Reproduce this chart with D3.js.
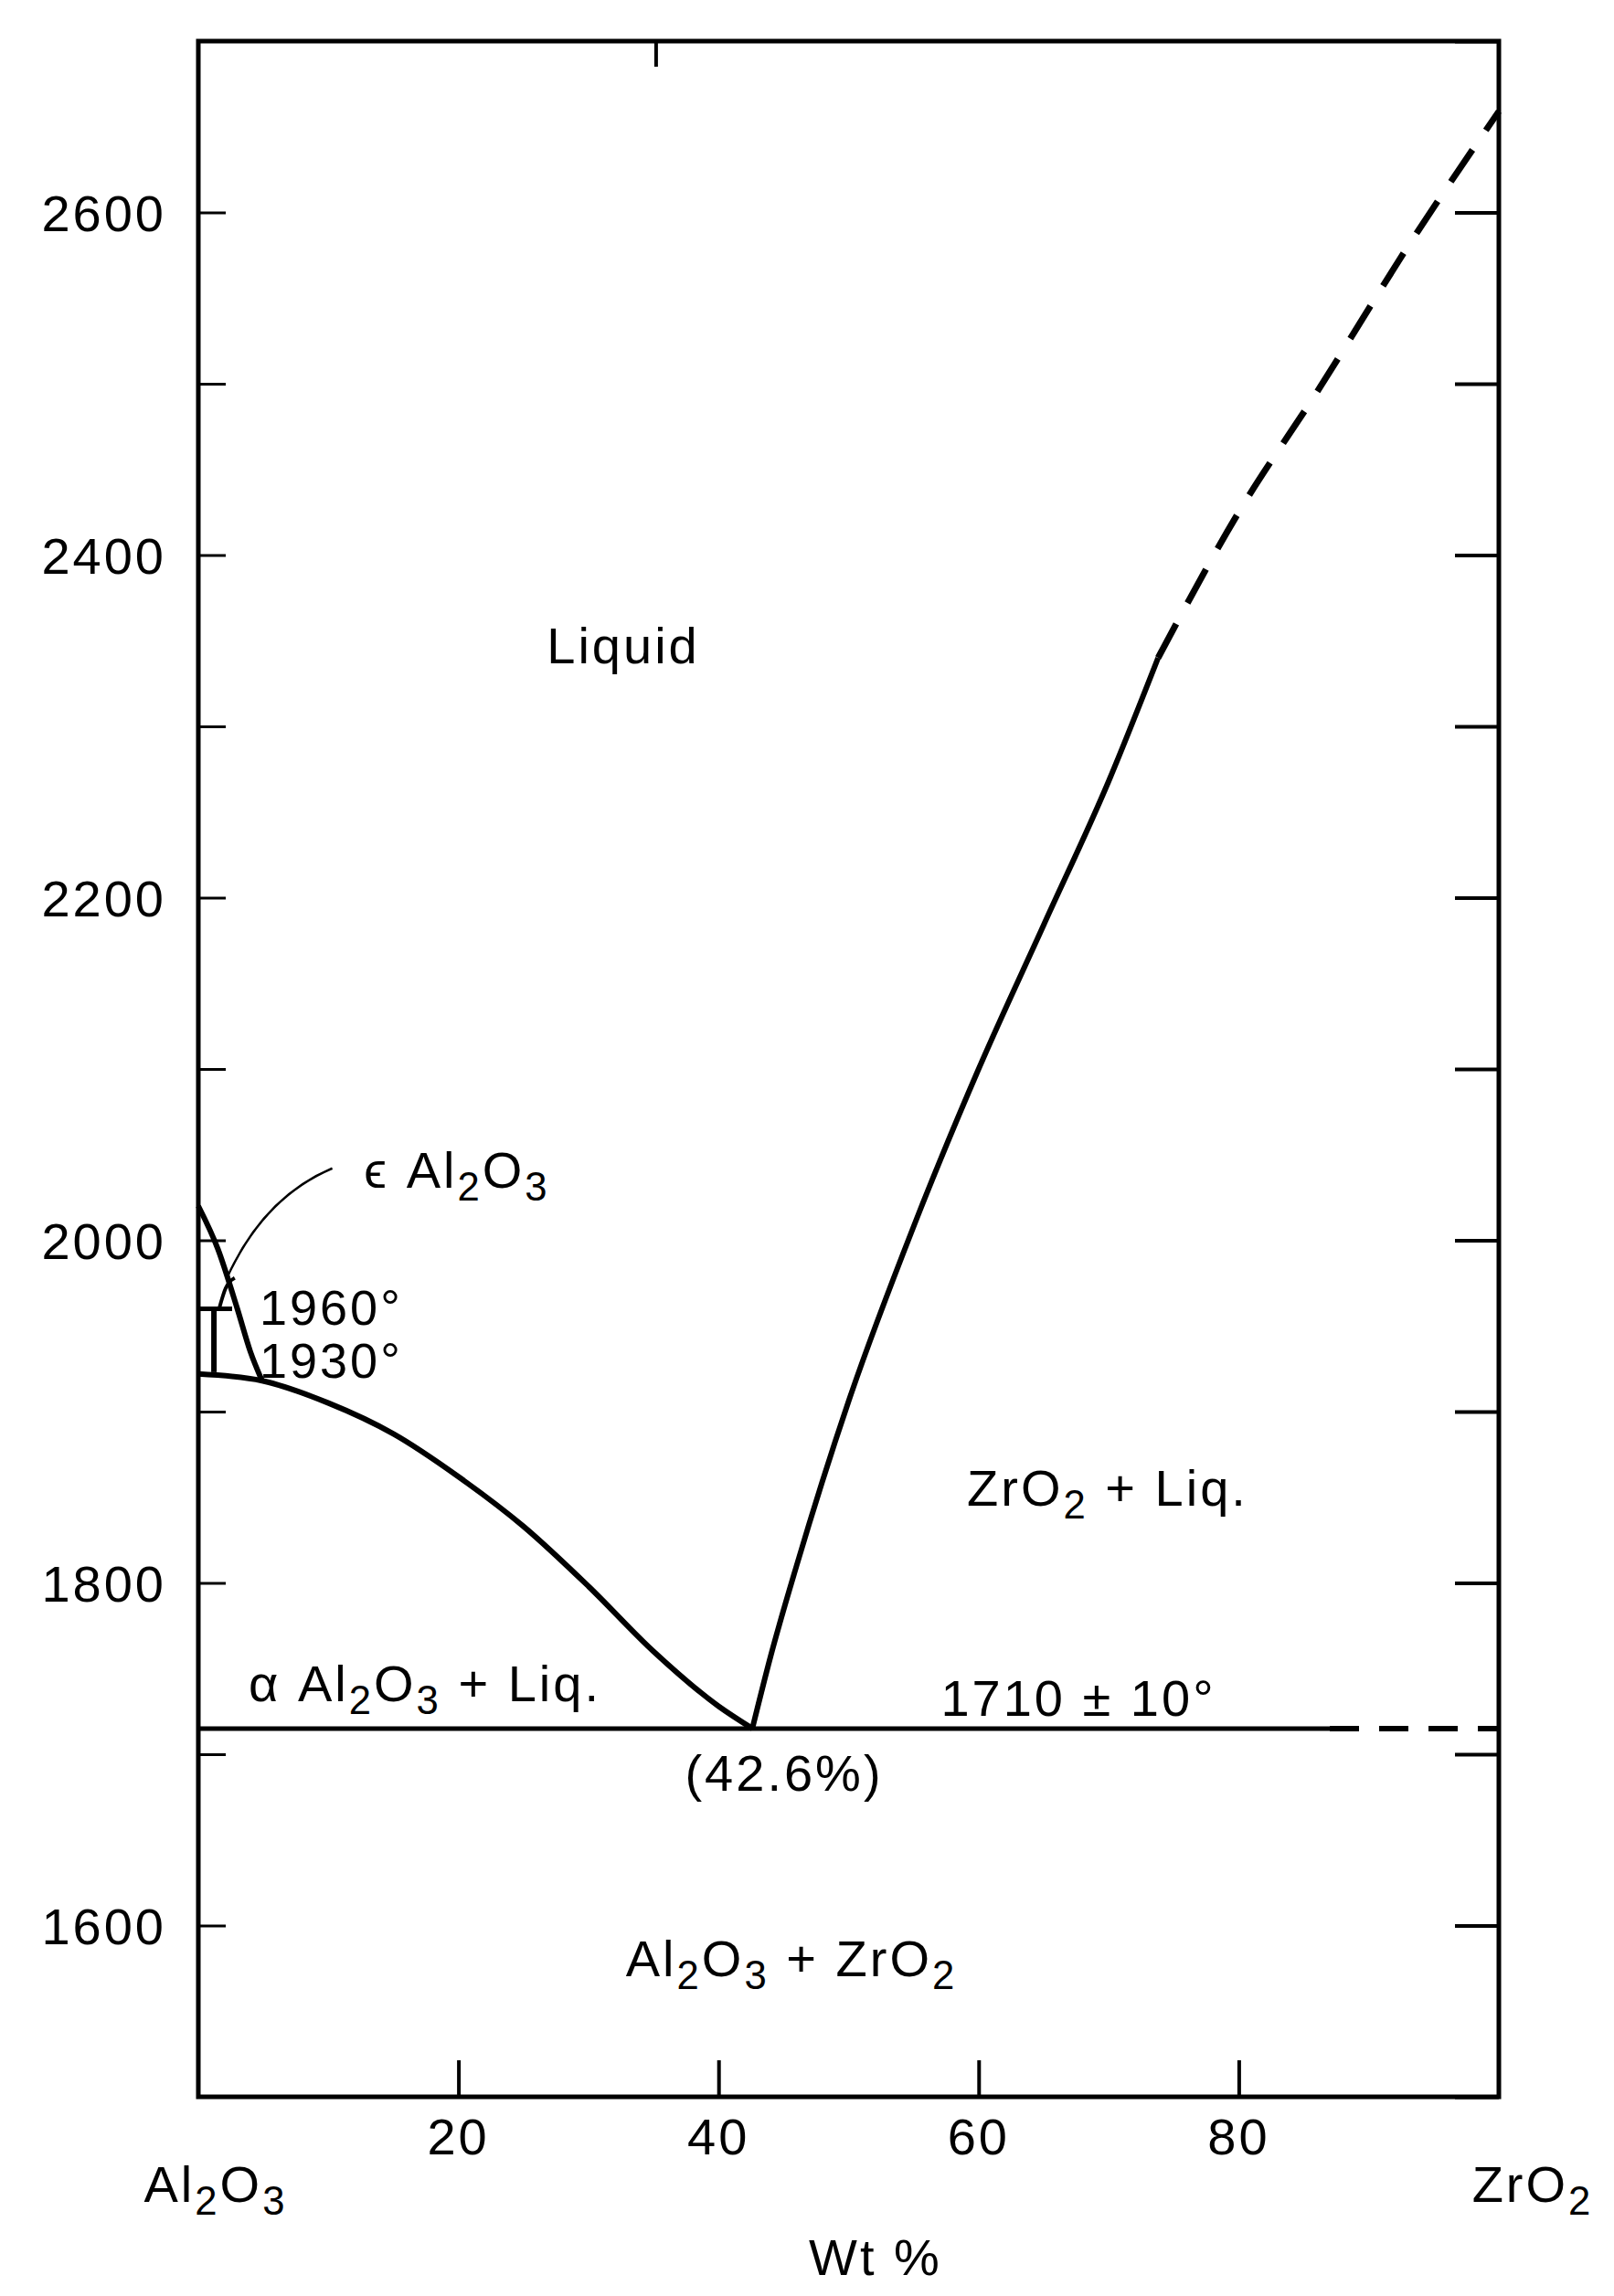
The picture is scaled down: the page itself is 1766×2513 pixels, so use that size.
<!DOCTYPE html><html><head><meta charset="utf-8">
<script src="https://cdn.jsdelivr.net/npm/d3@7"></script>
<style>body{margin:0;background:#fff}text{font-family:"Liberation Sans",Arial,sans-serif;fill:#000;letter-spacing:3px}</style></head><body>
<svg id="c" width="1766" height="2513"></svg>
<script>
const yTicks=[1600,1800,2000,2200,2400,2600];
const yMinor=[1500,1600,1700,1800,1900,2000,2100,2200,2300,2400,2500,2600,2700];
const xTicks=[20,40,60,80];
const epsDome=[[0,2020],[1.5,1995],[3,1960],[4,1935],[4.9,1918]];
const eps1960=[[0,1960],[2.6,1960]];
const epsVert=[[1.2,1960],[1.2,1923]];
const epsArch=[[1.6,1960],[2.1,1972],[2.8,1978]];
const liqLeft=[[0,1922],[4.9,1918],[10,1905],[15,1887],[20,1862],[25,1833],[30,1798],[35,1760],[40,1728],[42.6,1715]];
const liqRightSolid=[[42.6,1715],[44,1757],[46,1810],[50,1906],[55,2008],[60,2100],[65,2184],[70,2268],[73.8,2340]];
const liqRightDash=[[73.8,2340],[80,2425],[86,2495],[93,2580],[100,2659]];
const eutSolid=[[0,1715],[87,1715]];
const eutDash=[[87,1715],[100,1715]];
const svg=d3.select("#c");
const x=d3.scaleLinear().domain([0,100]).range([217,1640]);
const y=d3.scaleLinear().domain([1500,2700]).range([2295,45]);
const line=d3.line().x(d=>x(d[0])).y(d=>y(d[1])).curve(d3.curveMonotoneX);
const lin=d3.line().x(d=>x(d[0])).y(d=>y(d[1]));
svg.append("rect").attr("x",x(0)).attr("y",y(2700)).attr("width",x(100)-x(0)).attr("height",y(1500)-y(2700)).attr("fill","none").attr("stroke","#000").attr("stroke-width",5);
svg.append("g").attr("transform",`translate(${x(0)},0)`).call(d3.axisRight(y).tickValues(yMinor).tickSize(30).tickFormat("")).call(g=>g.select(".domain").remove()).selectAll("line").attr("stroke-width",3);
svg.append("g").attr("transform",`translate(${x(100)},0)`).call(d3.axisLeft(y).tickValues(yMinor).tickSize(48).tickFormat("")).call(g=>g.select(".domain").remove()).selectAll("line").attr("stroke-width",4);
svg.append("g").attr("transform",`translate(0,${y(1500)})`).call(d3.axisTop(x).tickValues(xTicks).tickSize(40).tickFormat("")).call(g=>g.select(".domain").remove()).selectAll("line").attr("stroke-width",4);
svg.append("line").attr("x1",x(35.2)).attr("x2",x(35.2)).attr("y1",y(2700)).attr("y2",y(2700)+28).attr("stroke","#000").attr("stroke-width",4);
svg.selectAll(".yl").data(yTicks).join("text").attr("x",182).attr("y",d=>y(d)+20).attr("text-anchor","end").attr("font-size",56).text(d=>d);
svg.selectAll(".xl").data(xTicks).join("text").attr("x",d=>x(d)).attr("y",2358).attr("text-anchor","middle").attr("font-size",56).text(d=>d);
const P=(d,dash,w=6,c=line)=>svg.append("path").attr("d",c(d)).attr("fill","none").attr("stroke","#000").attr("stroke-width",w).attr("stroke-dasharray",dash||null);
P(epsDome,null,6);P(eps1960,null,5,lin);P(epsVert,null,6,lin);P(epsArch,null,4);
P(liqLeft,null,6);P(liqRightSolid,null,6);P(liqRightDash,"42,26",7);
P(eutSolid,null,5,lin);P(eutDash,"32,22",6,lin);
svg.append("path").attr("d",`M${x(2.2)},${y(1978)} Q${x(5)},${y(2025)} ${x(10.3)},${y(2042)}`).attr("fill","none").attr("stroke","#000").attr("stroke-width",2.5);
function T(tx,ty,parts,size=56,anchor="middle"){const t=svg.append("text").attr("x",tx).attr("y",ty).attr("font-size",size).attr("text-anchor",anchor);
parts.forEach(p=>{if(Array.isArray(p)){t.append("tspan").attr("dy",14).attr("font-size",size*0.78).text(p[0]);t.append("tspan").attr("dy",-14).text("\u200b");}else t.append("tspan").text(p);});}
T(682,726,["Liquid"]);
T(1212,1648,["ZrO",["2"]," + Liq."]);
T(465,1862,["α Al",["2"],"O",["3"]," + Liq."]);
T(1180,1878,["1710 ± 10°"]);
T(858,1960,["(42.6%)"]);
T(866,2163,["Al",["2"],"O",["3"]," + ZrO",["2"]]);
T(500,1300,["ϵ Al",["2"],"O",["3"]]);
T(284,1450,["1960°"],54,"start");
T(284,1508,["1930°"],54,"start");
T(236,2410,["Al",["2"],"O",["3"]]);
T(1677,2410,["ZrO",["2"]]);
T(958,2490,["Wt %"]);
</script></body></html>
